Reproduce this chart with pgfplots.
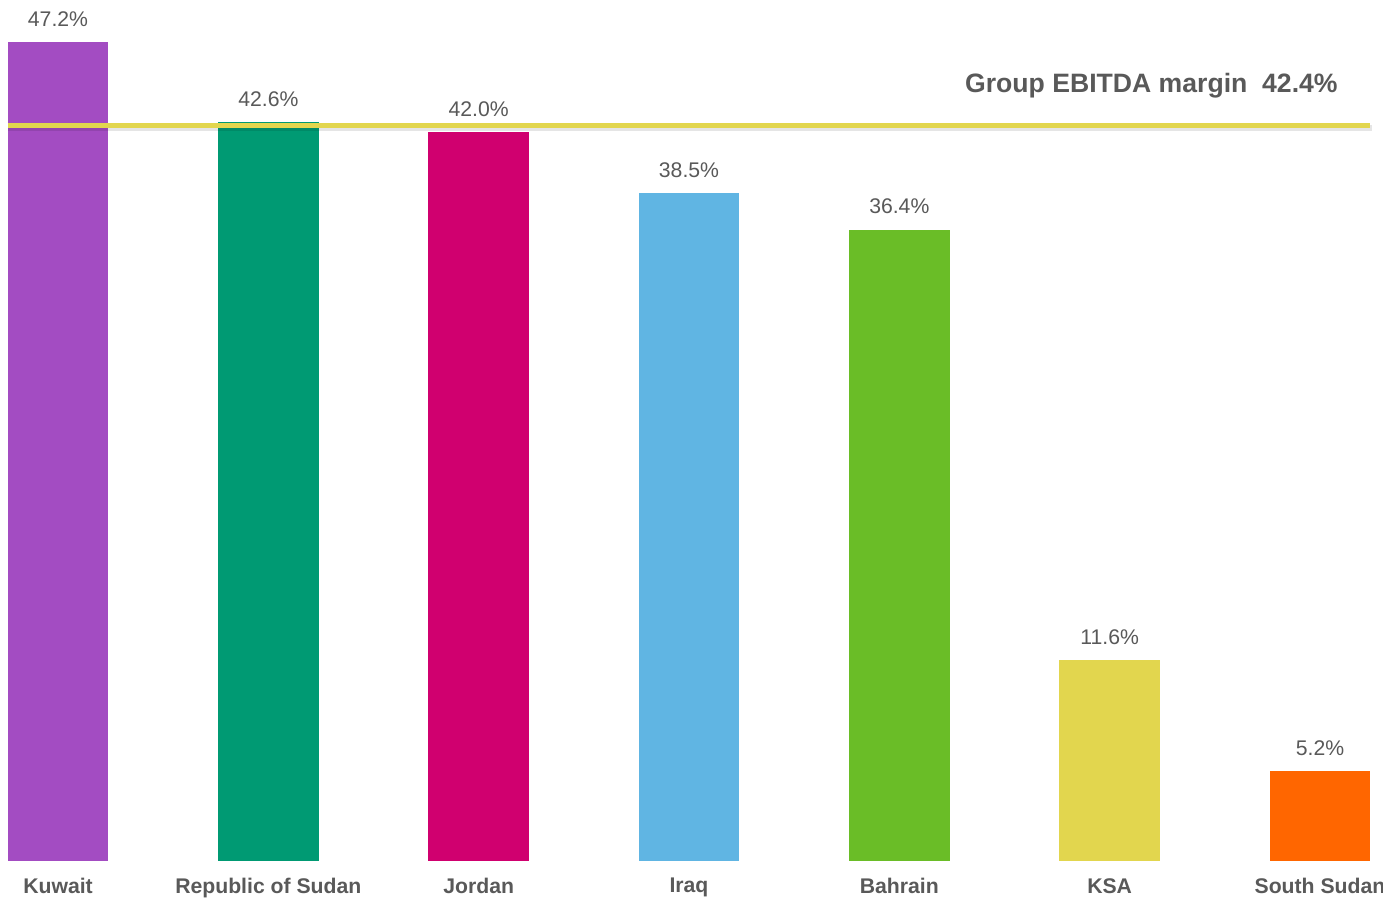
\documentclass[border=0pt]{standalone}
\usepackage{fontspec}
\setmainfont{Liberation Sans}
\usepackage{pgfplots}
\pgfplotsset{compat=1.18}
\definecolor{txt}{HTML}{595959}
\definecolor{cKuw}{HTML}{A34CC2}
\definecolor{cRos}{HTML}{009A73}
\definecolor{cJor}{HTML}{D0006F}
\definecolor{cIrq}{HTML}{60B5E3}
\definecolor{cBah}{HTML}{6ABD27}
\definecolor{cKsa}{HTML}{E2D64E}
\definecolor{cSsd}{HTML}{FF6600}
\definecolor{cLine}{HTML}{E2D64E}
\begin{document}
\begin{tikzpicture}
\begin{axis}[
  at={(0pt,0pt)}, anchor=south west,
  scale only axis, width=691.5pt, height=430.5pt,
  xmin=-0.2758, xmax=6.2996, ymin=0, ymax=49.63,
  clip=false,
  axis line style={draw=none},
  major tick length=0pt,
  ytick=\empty,
  xtick={0,1,2,3,4,5,6},
  xticklabels={Kuwait,Republic of Sudan,Jordan,Iraq,Bahrain,KSA,South Sudan},
  xticklabel style={font=\fontsize{10.6}{12}\selectfont\bfseries, text=txt, inner sep=0pt, yshift=-8.5pt},
  ybar, bar width=0.48, bar shift=0pt,
  point meta=explicit symbolic,
  nodes near coords,
  nodes near coords style={font=\fontsize{10.6}{12}\selectfont, text=txt, anchor=south, inner sep=0pt, yshift=7.5pt},
]
\addplot[fill=cKuw, draw=none] coordinates {(0,47.2) [47.2\%]};
\addplot[fill=cRos, draw=none] coordinates {(1,42.6) [42.6\%]};
\addplot[fill=cJor, draw=none] coordinates {(2,42.0) [42.0\%]};
\addplot[fill=cIrq, draw=none] coordinates {(3,38.5) [38.5\%]};
\addplot[fill=cBah, draw=none] coordinates {(4,36.4) [36.4\%]};
\addplot[fill=cKsa, draw=none] coordinates {(5,11.6) [11.6\%]};
\addplot[fill=cSsd, draw=none] coordinates {(6,5.2) [5.2\%]};
\addplot[sharp plot, no marks, draw=black, opacity=0.10, line width=3pt, nodes near coords={}, yshift=-1.5pt, forget plot] coordinates {(-0.2377,42.4) (6.245,42.4)};
\addplot[sharp plot, no marks, draw=cLine, line width=2.5pt, nodes near coords={}] coordinates {(-0.2377,42.4) (6.238,42.4)};
\node[anchor=base east, inner sep=0pt, text=txt, font=\fontsize{13.3}{16}\selectfont\bfseries] at (axis cs:6.0857,44.27) {Group EBITDA margin\ \ 42.4\%};
\end{axis}
\pgfresetboundingbox
\path[use as bounding box] (0pt,-19.5pt) rectangle (691.5pt,430.5pt);
\end{tikzpicture}
\end{document}
